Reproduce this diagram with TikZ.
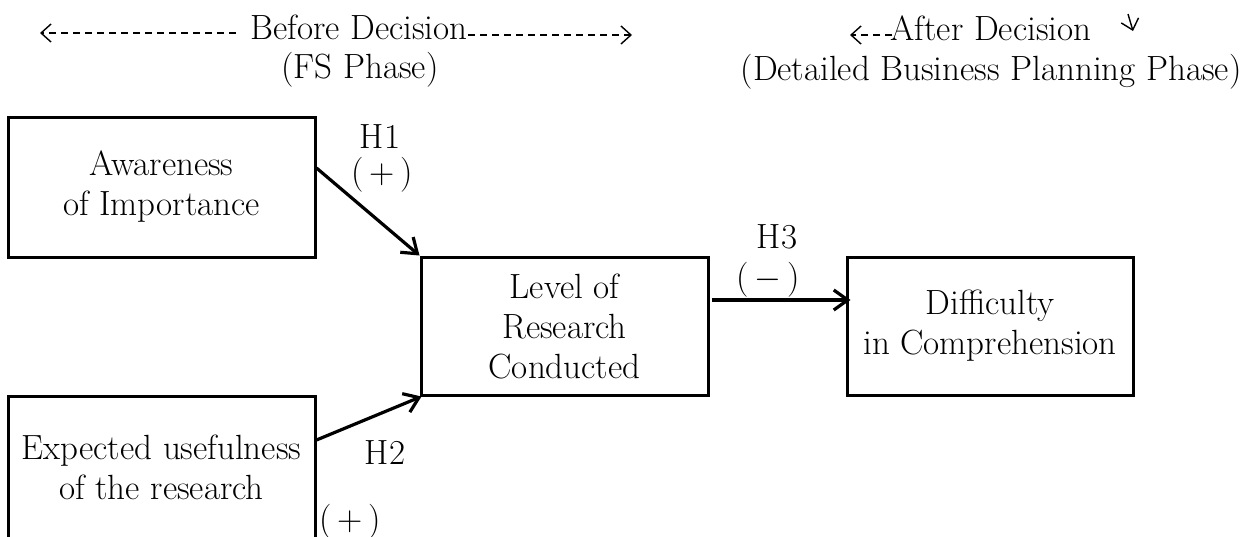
\documentclass[tikz,border=0pt]{standalone}
\usetikzlibrary{arrows.meta,calc}
\begin{document}
\begin{tikzpicture}[x=0.5pt,y=-0.5pt,
  every node/.style={font=\fontsize{17.5}{20}\selectfont, inner sep=0pt},
  box/.style={draw, line width=1.5pt, align=center, minimum width=153.5pt, minimum height=70pt},
  link/.style={line width=1.6pt, -{Straight Barb[length=7pt,width=10pt,line width=1.6pt]}},
  phase/.style={line width=0.7pt, dash pattern=on 3.5pt off 2.5pt, -{Straight Barb[length=5pt,width=9pt,line width=0.7pt]}},
  lbl/.style={}]
\useasboundingbox (0,0) rectangle (1252,536);
\node[box] (aw) at (161.5,187) {Awareness\\of Importance};
\node[box, minimum height=71pt] (ex) at (161.5,467) {Expected usefulness\\of the research};
\node[box, minimum width=143.5pt, minimum height=69pt] (lv) at (564.5,326) {Level of\\Research\\Conducted};
\node[box, minimum width=143pt, minimum height=69pt] (df) at (990,326) {Difficulty\\in Comprehension};
\draw[link] ($(aw.east)+(0,-19)$) -- (lv.north west);
\draw[link] ($(ex.east)+(0,-27)$) -- ($(lv.south west)+(2,0)$);
\draw[link] ($(lv.east)+(2,-26)$) -- ($(df.west)+(5,-26)$);
\node[lbl] (h1) at (380,137) {H1};
\node[lbl] (p1) at (382,175) {(\,+\,)};
\node[lbl] (h2) at (385,453) {H2};
\node[lbl] (p2) at (350,522) {(\,+\,)};
\node[lbl] (h3) at (777,237) {H3};
\node[lbl] (m3) at (768,280) {(\,$-$\,)};
\node (bd) at (359,27) {Before Decision};
\node (fs) at (360,70) {(FS Phase)};
\node (ad) at (991,28) {After Decision};
\node (dp) at (991,72) {(Detailed Business Planning Phase)};
\coordinate (l1) at (40,33);
\coordinate (r1) at (632,35);
\coordinate (l2) at (850,35);
\coordinate (t2a) at (1128,14);
\coordinate (t2b) at (1133,31);
\draw[phase] ($(bd.west)+(-14,6)$) -- (l1);
\draw[phase] ($(bd.east)+(0,8)$) -- (r1);
\draw[phase] ($(ad.west)+(2,7)$) -- (l2);
\draw[line width=0.7pt, -{Straight Barb[length=5pt,width=9pt,line width=0.7pt]}] (t2a) -- (t2b);
\end{tikzpicture}
\end{document}
